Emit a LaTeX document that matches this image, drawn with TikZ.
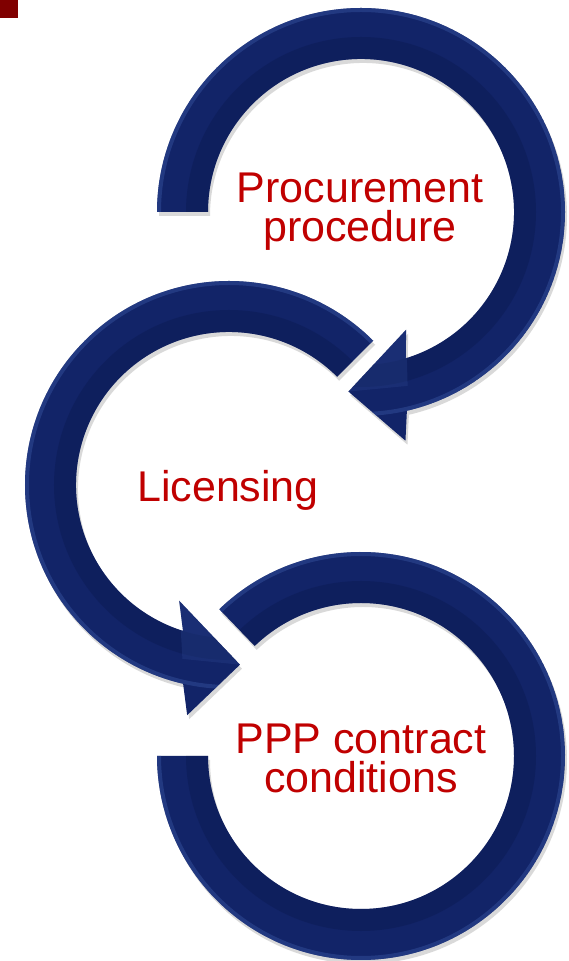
\documentclass[tikz,border=0pt]{standalone}
\usepackage{fontspec}
\setmainfont{Liberation Sans}
\definecolor{navy}{RGB}{18,36,104}
\definecolor{navylight}{RGB}{46,72,146}
\definecolor{navydark}{RGB}{10,24,78}
\definecolor{labelred}{RGB}{192,0,0}
\definecolor{cornerred}{RGB}{128,0,0}
\begin{document}
\begin{tikzpicture}[x=1pt,y=1pt,
    looplabel/.style={text=labelred,font=\fontsize{43}{39}\selectfont,align=center,inner sep=0pt,anchor=base},
    shadowed/.style={fill=black,opacity=.15},
    arrowone/.style={insert path={(180:204) arc[start angle=180,end angle=-77,radius=204pt]
        -- (-79:233) -- (-94:180) -- (-69:126) -- (-73:153)
        arc[start angle=-73,end angle=180,radius=153pt] -- cycle}},
    arrowtwo/.style={insert path={(45:204) arc[start angle=45,end angle=257,radius=204pt]
        -- (259.7:234) -- (273.5:180) -- (246.7:126) -- (252.5:153)
        arc[start angle=252.5,end angle=45,radius=153pt] -- cycle}},
    arrowthree/.style={insert path={(134:204) arc[start angle=134,end angle=-180,radius=204pt]
        -- (180:153) arc[start angle=180,end angle=494,radius=153pt] -- cycle}}]
  \useasboundingbox (0,0) rectangle (569,961);
  \fill[cornerred] (0,943) rectangle (18,961);
  % top loop
  \begin{scope}[shift={(361,749)}]
    \fill[shadowed,shift={(2,-4)},arrowone];
    \begin{scope}
      \clip[arrowone];
      \fill[navy] (-260,-260) rectangle (260,260);
      \draw[navylight,line width=4pt,opacity=.6] (0,0) circle[radius=202pt];
      \draw[navydark,line width=22pt,opacity=.4] (0,0) circle[radius=164pt];
      \fill[navylight,opacity=.3] (-69:126) -- (-94:180) -- (-75:180) -- cycle;
    \end{scope}
  \end{scope}
  % middle loop
  \begin{scope}[shift={(229,476)}]
    \fill[shadowed,shift={(2,-4)},arrowtwo];
    \begin{scope}
      \clip[arrowtwo];
      \fill[navy] (-260,-260) rectangle (260,260);
      \draw[navylight,line width=4pt,opacity=.6] (0,0) circle[radius=202pt];
      \draw[navydark,line width=22pt,opacity=.4] (0,0) circle[radius=164pt];
      \fill[navylight,opacity=.3] (246.7:126) -- (273.5:180) -- (255:180) -- cycle;
    \end{scope}
  \end{scope}
  % bottom loop
  \begin{scope}[shift={(361,205)}]
    \fill[shadowed,shift={(2,-4)},arrowthree];
    \begin{scope}
      \clip[arrowthree];
      \fill[navy] (-260,-260) rectangle (260,260);
      \draw[navylight,line width=4pt,opacity=.6] (0,0) circle[radius=202pt];
      \draw[navydark,line width=22pt,opacity=.4] (0,0) circle[radius=164pt];
    \end{scope}
  \end{scope}
  \node[looplabel] (proc) at (360,719) {Procurement\\procedure};
  \node[looplabel] (lic) at (228,459) {Licensing};
  \node[looplabel] (ppp) at (361,168) {PPP contract\\conditions};
\end{tikzpicture}
\end{document}
